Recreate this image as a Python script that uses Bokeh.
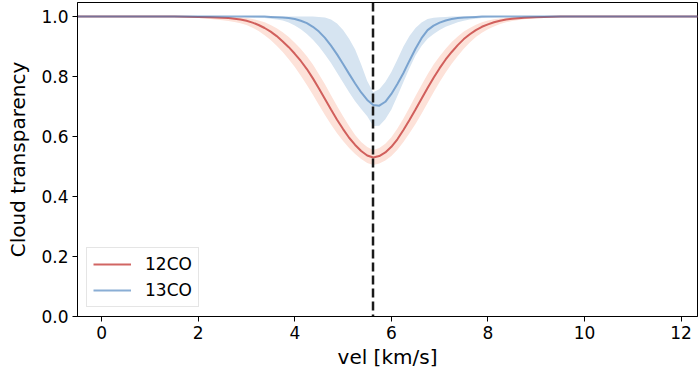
from bokeh.plotting import figure
from bokeh.models import Range1d, FixedTicker, PrintfTickFormatter, Span, Legend
from bokeh.embed import file_html
from bokeh.resources import INLINE

# ---- data ----
vel = [-0.5, 0.0, 1.0, 1.5, 2.0, 2.25,
       2.5, 2.625, 2.75, 2.875, 3.0, 3.125, 3.25, 3.375, 3.5, 3.625,
       3.75, 3.875, 4.0, 4.125, 4.25, 4.375, 4.5, 4.625, 4.75, 4.875,
       5.0, 5.125, 5.25, 5.375, 5.5, 5.625, 5.75, 5.875, 6.0, 6.125,
       6.25, 6.375, 6.5, 6.625, 6.75, 6.875, 7.0, 7.125, 7.25, 7.375,
       7.5, 7.625, 7.75, 7.875, 8.0, 8.125, 8.25, 8.375, 8.5,
       8.75, 9.0, 9.5, 10.0, 11.0, 12.4]

co12 = [1.0, 1.0, 1.0, 1.0, 0.999, 0.998,
        0.996, 0.995, 0.993, 0.990, 0.986, 0.980, 0.972, 0.962, 0.950, 0.935,
        0.917, 0.898, 0.876, 0.852, 0.825, 0.794, 0.760, 0.725, 0.690, 0.656,
        0.625, 0.596, 0.572, 0.552, 0.537, 0.530, 0.535, 0.547, 0.566, 0.591,
        0.622, 0.655, 0.690, 0.726, 0.762, 0.796, 0.828, 0.857, 0.882, 0.905,
        0.925, 0.941, 0.955, 0.966, 0.974, 0.981, 0.986, 0.990, 0.993,
        0.996, 0.998, 1.0, 1.0, 1.0, 1.0]
co12_lo = [1.0, 1.0, 1.0, 0.999, 0.995, 0.992,
           0.988, 0.985, 0.982, 0.978, 0.972, 0.963, 0.952, 0.938, 0.922, 0.903,
           0.882, 0.858, 0.832, 0.803, 0.772, 0.739, 0.705, 0.672, 0.640, 0.611,
           0.585, 0.562, 0.542, 0.525, 0.512, 0.505, 0.510, 0.520, 0.535, 0.556,
           0.582, 0.611, 0.642, 0.676, 0.712, 0.748, 0.782, 0.814, 0.843, 0.869,
           0.893, 0.914, 0.932, 0.946, 0.958, 0.967, 0.975, 0.981, 0.985,
           0.991, 0.995, 0.998, 1.0, 1.0, 1.0]
co12_hi = [1.0, 1.0, 1.0, 1.0, 1.0, 1.0,
           0.999, 0.999, 0.998, 0.997, 0.995, 0.992, 0.987, 0.981, 0.972, 0.961,
           0.948, 0.932, 0.913, 0.892, 0.868, 0.840, 0.808, 0.774, 0.738, 0.702,
           0.668, 0.635, 0.605, 0.582, 0.565, 0.555, 0.562, 0.576, 0.598, 0.627,
           0.660, 0.697, 0.735, 0.772, 0.808, 0.840, 0.868, 0.893, 0.915, 0.934,
           0.950, 0.962, 0.973, 0.981, 0.987, 0.991, 0.994, 0.996, 0.998,
           1.0, 1.0, 1.0, 1.0, 1.0, 1.0]

co13 = [1.0, 1.0, 1.0, 1.0, 1.0, 1.0,
        1.0, 1.0, 1.0, 1.0, 1.0, 1.0, 1.0, 1.0, 0.999, 0.998,
        0.997, 0.995, 0.992, 0.986, 0.978, 0.966, 0.950, 0.929, 0.903, 0.874,
        0.842, 0.809, 0.777, 0.747, 0.722, 0.705, 0.703, 0.716, 0.742, 0.775,
        0.812, 0.853, 0.893, 0.928, 0.955, 0.970, 0.980, 0.987, 0.992, 0.995,
        0.997, 0.998, 0.999, 1.0, 1.0, 1.0, 1.0, 1.0, 1.0,
        1.0, 1.0, 1.0, 1.0, 1.0, 1.0]
co13_lo = [1.0, 1.0, 1.0, 1.0, 1.0, 1.0,
           1.0, 1.0, 1.0, 1.0, 0.998, 0.997, 0.996, 0.995, 0.993, 0.990,
           0.987, 0.980, 0.970, 0.958, 0.942, 0.923, 0.900, 0.874, 0.845, 0.813,
           0.780, 0.748, 0.718, 0.692, 0.668, 0.635, 0.636, 0.658, 0.690, 0.735,
           0.782, 0.828, 0.870, 0.902, 0.926, 0.942, 0.955, 0.966, 0.974, 0.981,
           0.986, 0.990, 0.993, 0.995, 0.997, 0.998, 0.999, 1.0, 1.0,
           1.0, 1.0, 1.0, 1.0, 1.0, 1.0]
co13_hi = [1.0, 1.0, 1.0, 1.0, 1.0, 1.0,
           1.0, 1.0, 1.0, 1.0, 1.0, 1.0, 1.0, 1.0, 1.0, 1.0,
           1.0, 1.0, 1.0, 1.0, 1.0, 1.0, 0.999, 0.997, 0.990, 0.977,
           0.955, 0.926, 0.890, 0.840, 0.785, 0.748, 0.758, 0.782, 0.815, 0.857,
           0.900, 0.935, 0.962, 0.980, 0.992, 0.996, 0.998, 0.999, 1.0, 1.0,
           1.0, 1.0, 1.0, 1.0, 1.0, 1.0, 1.0, 1.0, 1.0,
           1.0, 1.0, 1.0, 1.0, 1.0, 1.0]

for s in (co12, co12_lo, co12_hi, co13, co13_lo, co13_hi):
    assert len(s) == len(vel)

v_sys = [5.62]
x_ticks = [0, 2, 4, 6, 8, 10, 12]
y_ticks = [0.0, 0.2, 0.4, 0.6, 0.8, 1.0]
labels = ["12CO", "13CO"]

FONT = "DejaVu Sans"

p = figure(width=700, height=380, output_backend="svg", toolbar_location=None,
           x_range=Range1d(-0.5, 12.34), y_range=Range1d(0.0, 1.047),
           min_border_left=77, min_border_right=3, min_border_top=2, min_border_bottom=64)

p.outline_line_color = "black"
p.outline_line_width = 1
p.xgrid.visible = False
p.ygrid.visible = False

for ax in (p.xaxis[0], p.yaxis[0]):
    ax.axis_line_color = "black"
    ax.major_tick_out = 5
    ax.major_tick_in = 0
    ax.minor_tick_line_color = None
    ax.major_label_text_font = FONT
    ax.major_label_text_font_size = "17px"
    ax.major_label_text_color = "black"
    ax.axis_label_text_font = FONT
    ax.axis_label_text_font_size = "20px"
    ax.axis_label_text_font_style = "normal"
    ax.axis_label_text_color = "black"

p.xaxis.ticker = FixedTicker(ticks=x_ticks)
p.yaxis.ticker = FixedTicker(ticks=y_ticks)
p.yaxis.formatter = PrintfTickFormatter(format="%.1f")
p.xaxis.axis_label = "vel [km/s]"
p.yaxis.axis_label = "Cloud transparency"
p.xaxis.axis_label_standoff = 3
p.yaxis.axis_label_standoff = 8
p.xaxis.major_label_standoff = 4
p.yaxis.major_label_standoff = 4

# bands
p.varea(x=vel, y1=co12_lo, y2=co12_hi, fill_color="#fde2d9", fill_alpha=1.0)
p.varea(x=vel, y1=co13_lo, y2=co13_hi, fill_color="#d6e4f1", fill_alpha=1.0)

# lines
r12 = p.line(vel, co12, line_color="#c53f3c", line_alpha=0.8, line_width=2)
r13 = p.line(vel, co13, line_color="#3c78b9", line_alpha=0.6, line_width=2)

p.add_layout(Span(location=v_sys[0], dimension="height", line_color="#1a1a1a",
                  line_width=2.5, line_dash="9 4"))

legend = Legend(items=[(labels[0], [r12]), (labels[1], [r13])], location="bottom_left")
legend.label_text_font = FONT
legend.label_text_font_size = "17px"
legend.label_text_color = "black"
legend.glyph_width = 38
legend.glyph_height = 20
legend.label_height = 20
legend.spacing = 6
legend.padding = 6
legend.margin = 9
legend.border_line_color = "#cccccc"
legend.border_line_width = 1
legend.background_fill_alpha = 0.85
legend.label_standoff = 14
p.add_layout(legend)

open("out.html", "w").write(file_html(p, INLINE))
